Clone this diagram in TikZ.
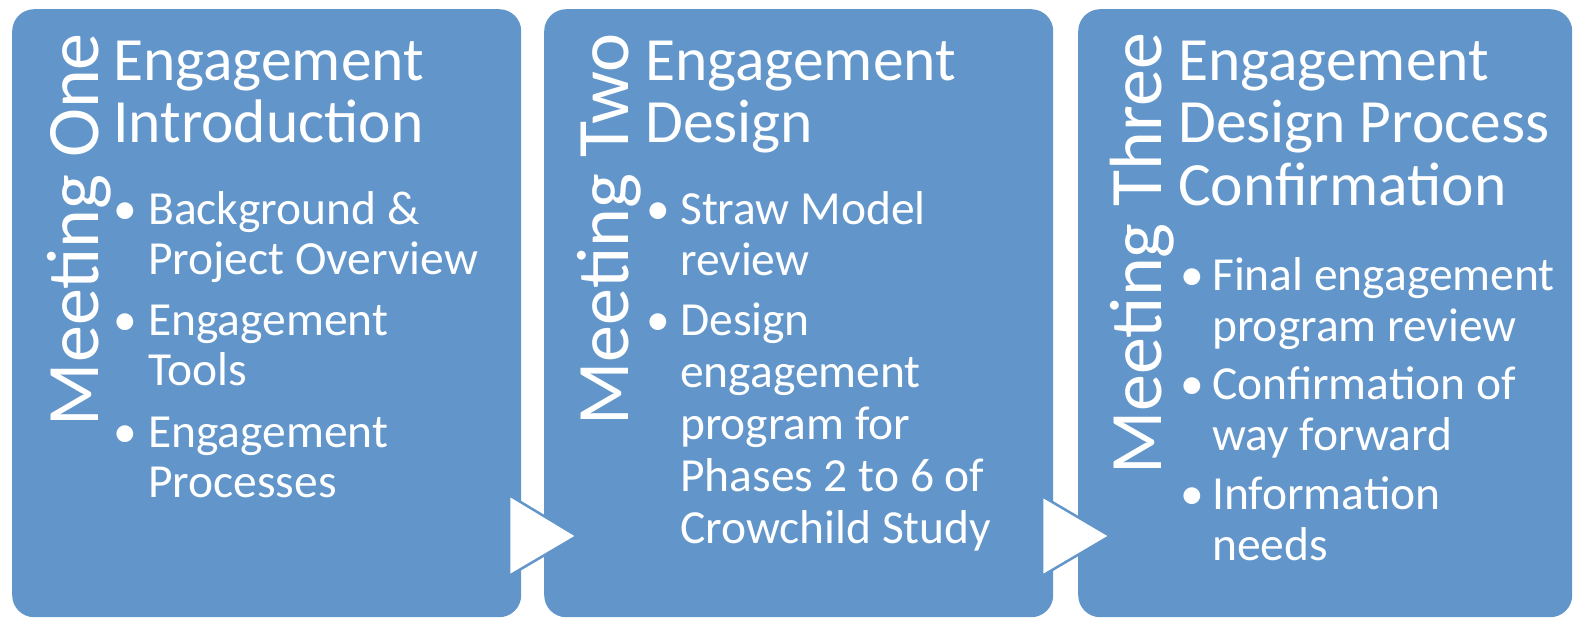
\documentclass[tikz,border=0pt]{standalone}
\usepackage{fontspec}
\setmainfont{Carlito}
\usetikzlibrary{positioning}

\definecolor{boxblue}{RGB}{98,150,202}

% stacked lines that hang from the first baseline
\newcommand{\rows}[1]{\begin{tabular}[t]{@{}l@{}}#1\end{tabular}}

\tikzset{
  meeting/.style = {fill=boxblue, rounded corners=22pt, inner sep=0pt,
                    minimum width=509pt, minimum height=608pt, anchor=north west},
  heading/.style = {text=white, rotate=90, anchor=base east, inner sep=0pt,
                    font=\fontsize{74pt}{76pt}\selectfont},
  topic/.style   = {text=white, anchor=base west, inner sep=0pt,
                    font=\fontsize{61.5pt}{62.5pt}\selectfont},
  dot/.style     = {text=white, anchor=base, inner sep=0pt,
                    font=\fontsize{47.5pt}{51pt}\selectfont},
  point/.style   = {text=white, anchor=base west, inner sep=0pt,
                    font=\fontsize{47.5pt}{51pt}\selectfont},
  pointer/.style = {fill=white, draw=boxblue, line width=2.5pt, line join=miter},
}

\begin{document}
\begin{tikzpicture}[x=1pt, y=-1pt]

	\useasboundingbox (0,0) rectangle (1573,618);

	% the three meeting panels
	\node[meeting] (box1) at (12,9) {};
	\node[meeting] (box2) at (544,9) {};
	\node[meeting, minimum width=494pt] (box3) at (1078,9) {};

	% vertical headings
	\node[heading] (head1) at (98,33) {Meeting One};
	\node[heading] (head2) at (628,33) {Meeting Two};
	\node[heading] (head3) at (1161,33) {Meeting Three};

	% first panel
	\node[topic] (topic1) at (113,80) {\rows{Engagement\\Introduction}};
	\node[dot] (d11) at (125,224) {\textbullet};
	\node[point, font=\fontsize{47.5pt}{50pt}\selectfont] (p11) at (148,224) {\rows{Background \&\\Project Overview}};
	\node[dot] (d12) at (125,335) {\textbullet};
	\node[point, font=\fontsize{47.5pt}{50pt}\selectfont] (p12) at (148,335) {\rows{Engagement\\Tools}};
	\node[dot] (d13) at (125,447) {\textbullet};
	\node[point, font=\fontsize{47.5pt}{50pt}\selectfont] (p13) at (148,447) {\rows{Engagement\\Processes}};

	% second panel
	\node[topic] (topic2) at (645,80) {\rows{Engagement\\Design}};
	\node[dot] (d21) at (658,224) {\textbullet};
	\node[point] (p21) at (680,224) {\rows{Straw Model\\review}};
	\node[dot] (d22) at (658,335) {\textbullet};
	\node[point, font=\fontsize{47.5pt}{52pt}\selectfont] (p22) at (680,335) {\rows{Design\\engagement\\program for\\Phases 2 to 6 of\\Crowchild Study}};

	% third panel
	\node[topic] (topic3) at (1178,80) {\rows{Engagement\\Design Process\\Confirmation}};
	\node[dot] (d31) at (1192,290) {\textbullet};
	\node[point] (p31) at (1212,290) {\rows{Final engagement\\program review}};
	\node[dot] (d32) at (1192,399) {\textbullet};
	\node[point] (p32) at (1212,399) {\rows{Confirmation of\\way forward}};
	\node[dot] (d33) at (1192,509) {\textbullet};
	\node[point] (p33) at (1212,509) {\rows{Information\\needs}};

	% white pointers between the panels
	\coordinate (a1) at (509,495);
	\coordinate (b1) at (577,536);
	\coordinate (c1) at (509,576);
	\coordinate (a2) at (1042,496);
	\coordinate (b2) at (1110,536);
	\coordinate (c2) at (1042,576);
	\draw[pointer] (a1) -- (b1) -- (c1) -- cycle;
	\draw[pointer] (a2) -- (b2) -- (c2) -- cycle;

\end{tikzpicture}
\end{document}
